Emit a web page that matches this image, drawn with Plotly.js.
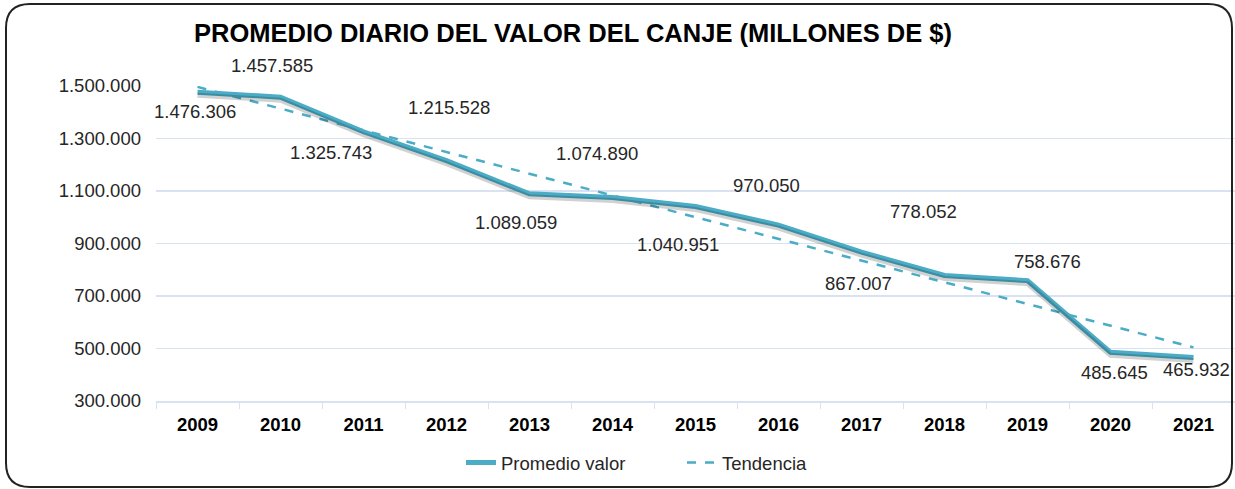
<!DOCTYPE html>
<html>
<head>
<meta charset="utf-8">
<script src="https://cdn.plot.ly/plotly-3.0.1.min.js"></script>
<style>html,body{margin:0;padding:0;background:#fff;}#chart{width:1235px;height:489px;}</style>
</head>
<body>
<div id="chart"></div>
<script>
// ---- data ----
var years = ['2009','2010','2011','2012','2013','2014','2015','2016','2017','2018','2019','2020','2021'];
var promedioValor = [1476306, 1457585, 1325743, 1215528, 1089059, 1074890, 1040951, 970050, 867007, 778052, 758676, 485645, 465932];
var valueLabels = ['1.476.306','1.457.585','1.325.743','1.215.528','1.089.059','1.074.890','1.040.951','970.050','867.007','778.052','758.676','485.645','465.932'];
var trendYears = ['2009', '2021'];
var trendValues = [1496600, 504200];
var yTickVals = [300000, 500000, 700000, 900000, 1100000, 1300000, 1500000];

// ---- label offsets (pixels) ----
var labelDx = [-3, -9, -33, 2, -14, -16, -18, -12, -3, -21, 20, 4, 3];
var labelDy = [-19, 32, -21, 53, -29, 44, -38, 40, -31, 64, 19, -20, -12];

var teal = '#4BACC6';
var FONT = 'Liberation Sans, Arial, sans-serif';
var L = 156, R = 1235, T = 86, B = 401;
function px(x){ return (x - L) / (R - L); }
function py(y){ return (B - y) / (B - T); }

// annotations placed on the category axis by category index
var annotations = years.map(function(yr, i){
  return {x: years.indexOf(yr), y: promedioValor[i], xref: 'x', yref: 'y', text: valueLabels[i], showarrow: false,
    xshift: labelDx[i], yshift: labelDy[i], font: {family: FONT, size: 18.5, color: '#262626'}};
});

// rounded frame
var fl = 6, fr = 1232, ft = 4, fb = 487, rad = 24;
var path = 'M' + px(fl + rad) + ',' + py(ft) +
  ' L' + px(fr - rad) + ',' + py(ft) +
  ' Q' + px(fr) + ',' + py(ft) + ' ' + px(fr) + ',' + py(ft + rad) +
  ' L' + px(fr) + ',' + py(fb - rad) +
  ' Q' + px(fr) + ',' + py(fb) + ' ' + px(fr - rad) + ',' + py(fb) +
  ' L' + px(fl + rad) + ',' + py(fb) +
  ' Q' + px(fl) + ',' + py(fb) + ' ' + px(fl) + ',' + py(fb - rad) +
  ' L' + px(fl) + ',' + py(ft + rad) +
  ' Q' + px(fl) + ',' + py(ft) + ' ' + px(fl + rad) + ',' + py(ft) + ' Z';

var yRange = [300000, 1500000];
var shadowShift = 3 * (yRange[1] - yRange[0]) / (B - T); // 3px drop shadow

var traces = [
  {x: years, y: promedioValor, type: 'scatter', mode: 'lines', name: 'shadow', showlegend: false, hoverinfo: 'skip',
   yaxis: 'y2', line: {color: 'rgba(0,0,0,0.18)', width: 5}, cliponaxis: false},
  {x: years, y: promedioValor, type: 'scatter', mode: 'lines', name: 'Promedio valor',
   line: {color: teal, width: 5}, cliponaxis: false},
  {x: trendYears, y: trendValues, type: 'scatter', mode: 'lines', name: 'Tendencia',
   line: {color: teal, width: 2.5, dash: 'dash'}, cliponaxis: false}
];

var layout = {
  width: 1235, height: 489,
  margin: {l: L, r: 1235 - R, t: T, b: 489 - B, pad: 0},
  paper_bgcolor: '#ffffff', plot_bgcolor: '#ffffff',
  separators: ',.',
  font: {family: FONT, size: 18, color: '#262626'},
  title: {text: 'PROMEDIO DIARIO DEL VALOR DEL CANJE (MILLONES DE $)', x: 573/1235, xref: 'container', xanchor: 'center',
          y: 1 - 33/489, yref: 'container', yanchor: 'middle',
          font: {family: FONT, size: 25.5, color: '#000000', weight: 'bold'}},
  xaxis: {type: 'category', range: [-0.5, 12.5], showgrid: false, zeroline: false,
          showline: true, linecolor: '#D9E2F3', linewidth: 1.5,
          ticks: 'outside', tickson: 'boundaries', ticklen: 6, tickcolor: '#D9E2F3',
          ticklabelstandoff: 6,
          tickfont: {family: FONT, size: 18.5, color: '#000000', weight: 'bold'}},
  yaxis: {range: yRange, tickvals: yTickVals, tickformat: ',d', showgrid: true, gridcolor: '#D9E2F3', gridwidth: 1.5,
          zeroline: false, showline: false, ticks: '', ticklabelstandoff: 14,
          tickfont: {family: FONT, size: 18.5, color: '#262626'}},
  yaxis2: {overlaying: 'y', range: [yRange[0] + shadowShift, yRange[1] + shadowShift], visible: false, showgrid: false, zeroline: false},
  showlegend: true,
  legend: {orientation: 'h', x: px(461), xanchor: 'left', y: py(463), yanchor: 'middle',
           font: {family: FONT, size: 18.5, color: '#262626'},
           entrywidth: 176, entrywidthmode: 'pixels', bgcolor: 'rgba(0,0,0,0)', tracegroupgap: 0},
  annotations: annotations,
  shapes: [{type: 'path', xref: 'paper', yref: 'paper', path: path, line: {color: '#222222', width: 2}, layer: 'above'}]
};

Plotly.newPlot('chart', traces, layout, {displayModeBar: false, staticPlot: true});
</script>
</body>
</html>
